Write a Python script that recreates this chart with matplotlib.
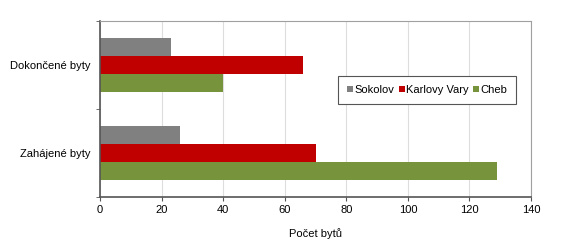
"""Byty - bar chart"""

import numpy as np
import matplotlib.pyplot as plt

plt.rcParams['font.family'] = ['Liberation Sans', 'DejaVu Sans']

categories = ["Zahájené byty", "Dokončené byty"]
series = ["Sokolov", "Karlovy Vary", "Cheb"]
sokolov = [26, 23]
karlovy_vary = [70, 66]
cheb = [129, 40]
colors = ["#808080", "#C00000", "#77933C"]

fig = plt.figure(figsize=(5.7, 2.43), dpi=100)
ax = fig.add_axes([100 / 570, 1 - 197 / 243, 431 / 570, 176 / 243])

y = np.arange(len(categories))
h = 0.205
for vals, off, col, lab in zip([sokolov, karlovy_vary, cheb], [h, 0, -h], colors, series):
    ax.barh(y + off, vals, height=h, color=col, label=lab, zorder=2)

ax.set_xlim(0, 140)
ax.set_ylim(-0.5, 1.5)
ax.set_xticks(np.arange(0, 141, 20))
ax.set_yticks(y)
ax.set_yticklabels(categories)
ax.set_yticks([-0.5, 0.5, 1.5], minor=True)
ax.tick_params(axis='y', which='major', length=0, labelsize=8, pad=7)
ax.tick_params(axis='y', which='minor', length=3, color='#555555')
ax.tick_params(axis='x', length=3, color='#555555', labelsize=8, pad=3)
ax.grid(axis='x', color='#DDDDDD', linewidth=0.8, zorder=0)
ax.set_xlabel("Počet bytů", fontsize=8, labelpad=9)

for s in ['top', 'right']:
    ax.spines[s].set_color('#A0A0A0')
for s in ['left', 'bottom']:
    ax.spines[s].set_color('#555555')
    ax.spines[s].set_linewidth(1.2)

leg = ax.legend(loc='center', bbox_to_anchor=(0.561, 0.528, 0.397, 0.16), ncol=3, fontsize=8,
                handlelength=0.55, handleheight=0.55, handletextpad=0.15, columnspacing=0.35,
                fancybox=False, framealpha=1, borderpad=0.8, borderaxespad=0)
leg.get_frame().set_edgecolor('#555555')
leg.get_frame().set_linewidth(0.8)

fig.savefig("out.png", dpi=100)
